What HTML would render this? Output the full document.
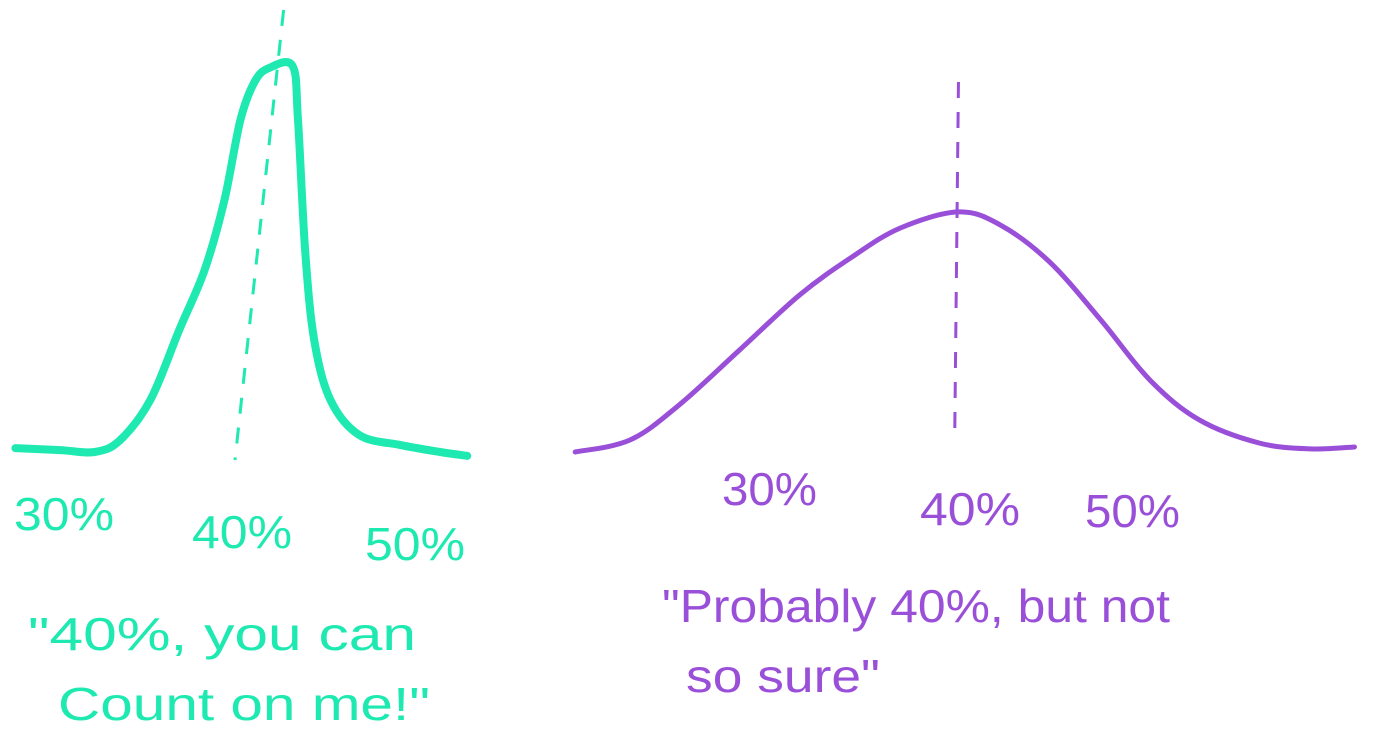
<!DOCTYPE html>
<html><head><meta charset="utf-8"><style>
html,body{margin:0;padding:0;background:#fff;width:1400px;height:745px;overflow:hidden}
svg{display:block}
text{font-family:"Liberation Sans",sans-serif}
</style></head><body>
<svg id="chart" width="1400" height="745" viewBox="0 0 1400 745">
<g id="left"></g>
<g id="right"></g>
<g fill="#1de9b0" font-size="46">
<text x="14" y="530" textLength="100" lengthAdjust="spacingAndGlyphs">30%</text>
<text x="192" y="548" textLength="100" lengthAdjust="spacingAndGlyphs">40%</text>
<text x="365" y="560" textLength="100" lengthAdjust="spacingAndGlyphs">50%</text>
<text x="28" y="650" font-size="46" textLength="388" lengthAdjust="spacingAndGlyphs">"40%, you can</text>
<text x="58" y="720" font-size="46" textLength="372" lengthAdjust="spacingAndGlyphs">Count on me!"</text>
</g>
<g fill="#9a4fd8" font-size="46">
<text x="722" y="505" textLength="95" lengthAdjust="spacingAndGlyphs">30%</text>
<text x="920" y="525" textLength="100" lengthAdjust="spacingAndGlyphs">40%</text>
<text x="1085" y="527" textLength="95" lengthAdjust="spacingAndGlyphs">50%</text>
<text x="662" y="622" font-size="46" textLength="508" lengthAdjust="spacingAndGlyphs">"Probably 40%, but not</text>
<text x="686" y="692" font-size="46" textLength="194" lengthAdjust="spacingAndGlyphs">so sure"</text>
</g>
</svg>
<script>
const leftX=[27.8,30.3,32.2,33.6,35.3,36.9,38.3,39.4,40.3,41.1,41.9,43.2,43.5,43.9,44.4,45.3,46.9,49.2,51.4,52.9];
const leftD=[1,0.5,0,3,13.5,31.6,47,65,86,96,99.5,100,86,52,29,13.5,4.4,1.8,0,-1];
const rightX=[19.6,22.6,25.3,28.6,31.9,34.7,37.4,40.6,42.9,45.6,48.4,51.1,53.8,57.1,59.9,62.3];
const rightD=[0,3.1,12.2,26.4,40.7,50.3,58,62.2,58.8,49.2,34.2,18.6,8.3,2.3,0.8,1.3];
const yS=d=>452-d*3.86;
const lx=p=>55+(p-30)*18;
const rx=p=>765+(p-30)*18.25;
const NS='http://www.w3.org/2000/svg';
function curve(xs,ds,xf){
  const pts=xs.map((x,i)=>[xf(x),yS(ds[i])]);
  let d='M'+pts[0][0]+','+pts[0][1];
  for(let i=0;i<pts.length-1;i++){
    const p0=pts[i-1]||pts[i],p1=pts[i],p2=pts[i+1],p3=pts[i+2]||p2;
    d+=' C'+(p1[0]+(p2[0]-p0[0])/6)+','+(p1[1]+(p2[1]-p0[1])/6)+' '+(p2[0]-(p3[0]-p1[0])/6)+','+(p2[1]-(p3[1]-p1[1])/6)+' '+p2[0]+','+p2[1];
  }
  return d;
}
const L=document.getElementById('left'),R=document.getElementById('right');
const dl=document.createElementNS(NS,'line');


dl.setAttribute('x1',lx(42.7));dl.setAttribute('y1',10);dl.setAttribute('x2',lx(40.0));dl.setAttribute('y2',460);
dl.setAttribute('stroke','#1de9b0');dl.setAttribute('stroke-width',3);dl.setAttribute('stroke-dasharray','16 14');
L.appendChild(dl);
const pl=document.createElementNS(NS,'path');


pl.setAttribute('d',curve(leftX,leftD,lx));pl.setAttribute('fill','none');pl.setAttribute('stroke','#1de9b0');pl.setAttribute('stroke-width',8);pl.setAttribute('stroke-linecap','round');pl.setAttribute('stroke-linejoin','round');
L.appendChild(pl);
const dr=document.createElementNS(NS,'line');


dr.setAttribute('x1',rx(40.6));dr.setAttribute('y1',82);dr.setAttribute('x2',rx(40.4));dr.setAttribute('y2',428);
dr.setAttribute('stroke','#9a4fd8');dr.setAttribute('stroke-width',3);dr.setAttribute('stroke-dasharray','16 14');
R.appendChild(dr);
const pr=document.createElementNS(NS,'path');


pr.setAttribute('d',curve(rightX,rightD,rx));pr.setAttribute('fill','none');pr.setAttribute('stroke','#9a4fd8');pr.setAttribute('stroke-width',5);pr.setAttribute('stroke-linecap','round');
R.appendChild(pr);
</script>
</body></html>
